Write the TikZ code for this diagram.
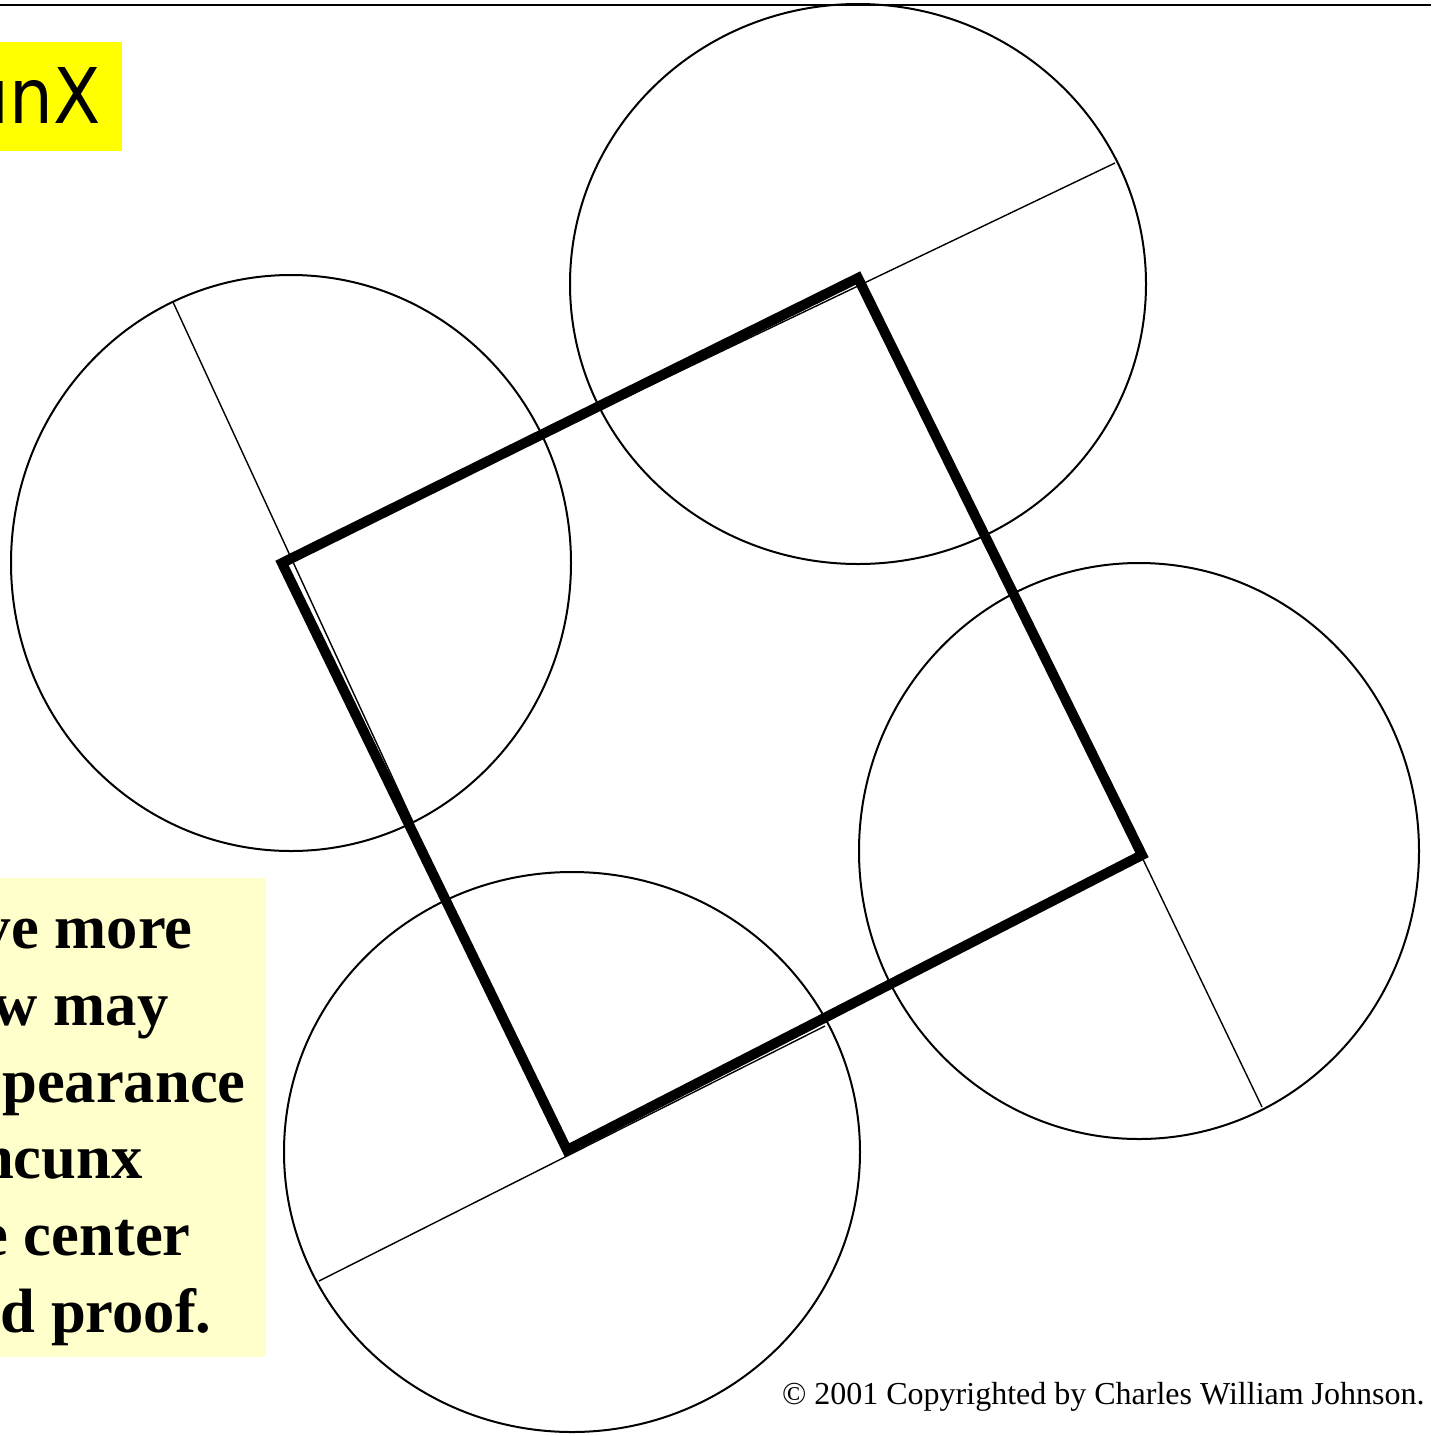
\documentclass[tikz,border=0pt]{standalone}
\usepackage{fontspec}
\setmainfont{Liberation Serif}
\newfontfamily\comicfont{DejaVu Sans}
\definecolor{brightyellow}{HTML}{FFFF00}
\definecolor{paleyellow}{HTML}{FFFFCC}
\begin{document}
\begin{tikzpicture}[x=0.5pt,y=-0.5pt,
  ring/.style={draw=black,line width=1pt},
  diam/.style={draw=black,line width=0.7pt},
  sqside/.style={draw=black,line width=5pt,line join=miter},
  boldline/.style={anchor=base east,inner sep=0pt,font=\fontsize{31.3}{38}\selectfont\bfseries},
]
\useasboundingbox (0,0) rectangle (1431,1436);
\clip (0,0) rectangle (1431,1436);
\fill[white] (0,0) rectangle (1431,1436);
% top rule
\coordinate (ruleL) at (0,5);
\coordinate (ruleR) at (1431,5);
\draw[line width=1.2pt] (ruleL) -- (ruleR);
% title box
\fill[brightyellow] (0,42) rectangle (122,151);
\node[anchor=base east,inner sep=0pt,xscale=0.9,font=\fontsize{38.4}{44}\comicfont] (title) at (101,123) {unX};
% text box
\fill[paleyellow] (0,878) rectangle (266,1357);
\node[boldline] (t1) at (193,948) {ve more};
\node[boldline] (t2) at (169,1025) {w may};
\node[boldline] (t3) at (246,1102) {pearance};
\node[boldline] (t4) at (143,1178) {ncunx};
\node[boldline] (t5) at (191,1255) {e center};
\node[boldline] (t6) at (212,1332) {d proof.};
% circles
\coordinate (cT) at (858,284);
\coordinate (cL) at (291,563);
\coordinate (cR) at (1139,851);
\coordinate (cB) at (572,1152);
\draw[ring] (cT) ellipse [x radius=144pt, y radius=140pt];
\draw[ring] (cL) ellipse [x radius=140pt, y radius=144pt];
\draw[ring] (cR) ellipse [x radius=140pt, y radius=144pt];
\draw[ring] (cB) ellipse [x radius=144pt, y radius=140pt];
% diameters
\coordinate (dT1) at (1115,163);
\coordinate (dT2) at (601,409);
\coordinate (dL1) at (173,302);
\coordinate (dL2) at (413,822);
\coordinate (dR1) at (1262,1107);
\coordinate (dR2) at (1016,595);
\coordinate (dB1) at (319,1281);
\coordinate (dB2) at (825,1026);
\draw[diam] (dT1) -- (dT2);
\draw[diam] (dL1) -- (dL2);
\draw[diam] (dR1) -- (dR2);
\draw[diam] (dB1) -- (dB2);
% thick square
\coordinate (qA) at (282,563);
\coordinate (qB) at (858,278);
\coordinate (qC) at (1142,855);
\coordinate (qD) at (567,1150);
\draw[sqside] (qA) -- (qB) -- (qC) -- (qD) -- cycle;
% copyright
\node[anchor=base east,inner sep=0pt,font=\fontsize{16}{19}\selectfont] (copy) at (1425,1404) {© 2001 Copyrighted by Charles William Johnson.};
\end{tikzpicture}
\end{document}
